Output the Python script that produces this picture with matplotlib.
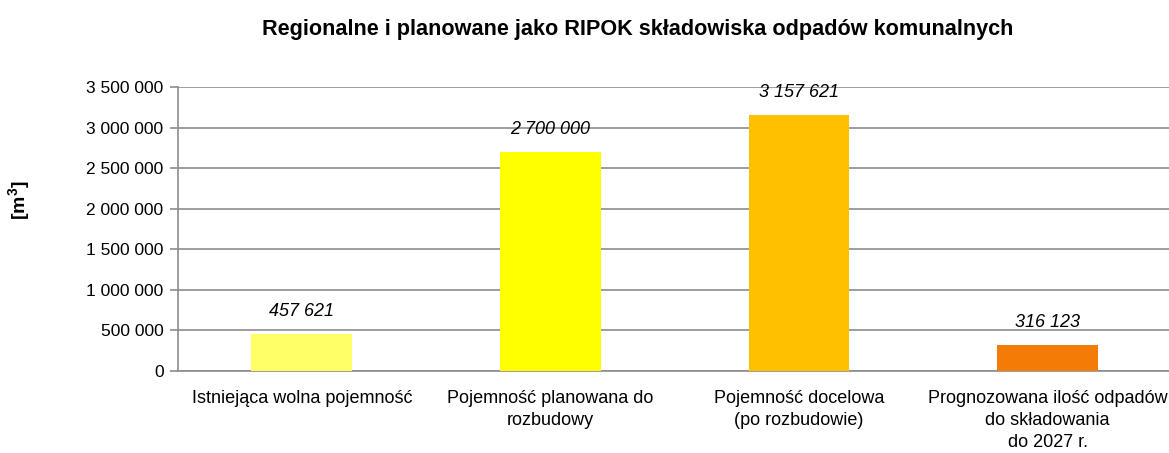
import matplotlib
matplotlib.use("Agg")
import matplotlib.pyplot as plt
from matplotlib.ticker import FuncFormatter

categories = ["Istniejąca wolna pojemność",
              "Pojemność planowana do\nrozbudowy",
              "Pojemność docelowa\n(po rozbudowie)",
              "Prognozowana ilość odpadów\ndo składowania\ndo 2027 r."]
values = [457621, 2700000, 3157621, 316123]
value_labels = ["457 621", "2 700 000", "3 157 621", "316 123"]
colors = ["#FFFF66", "#FFFF00", "#FFC000", "#F47C06"]
yticks = [0, 500000, 1000000, 1500000, 2000000, 2500000, 3000000, 3500000]

plt.rcParams['font.family'] = ['Liberation Sans', 'DejaVu Sans']

fig = plt.figure(figsize=(11.69, 4.53), dpi=100)
left, right = 177.5, 1172.0
ax = fig.add_axes([left/1169, 1-371/453, (right-left)/1169, (371-87)/453])

x = list(range(len(categories)))
ax.bar(x, values, width=0.405, color=colors, zorder=3)
ax.set_xlim(-0.5, len(categories)-0.5)
ax.set_ylim(0, 3500000)
ax.set_yticks(yticks)
ax.yaxis.set_major_formatter(FuncFormatter(lambda v, p: f"{int(v):,}".replace(",", " ")))
ax.grid(axis='y', color='#8c8c8c', linewidth=1.2, zorder=0)
for s in ['top', 'right']:
    ax.spines[s].set_visible(False)
for s in ['left', 'bottom']:
    ax.spines[s].set_color('#8c8c8c')
    ax.spines[s].set_linewidth(1.2)
ax.tick_params(axis='y', length=6, width=1.2, color='#8c8c8c', labelsize=12.5, pad=4)
ax.set_xticks(x)
ax.set_xticklabels(categories, fontsize=13, linespacing=1.38)
ax.tick_params(axis='x', length=0, pad=14)

for xi, v, lab in zip(x, values, value_labels):
    ax.annotate(lab, (xi, v), xytext=(0, 10), textcoords='offset points',
                ha='center', va='bottom', fontsize=13, style='italic')

fig.text(638/1169, 1-30/453, "Regionalne i planowane jako RIPOK składowiska odpadów komunalnych",
         ha='center', va='center', fontsize=15.6, fontweight='bold')
fig.text(20/1169, 1-200/453, "[m$^\\mathregular{3}$]", rotation=90, ha='center', va='center',
         fontsize=14, fontweight='bold')

fig.savefig("out.png", dpi=100)
